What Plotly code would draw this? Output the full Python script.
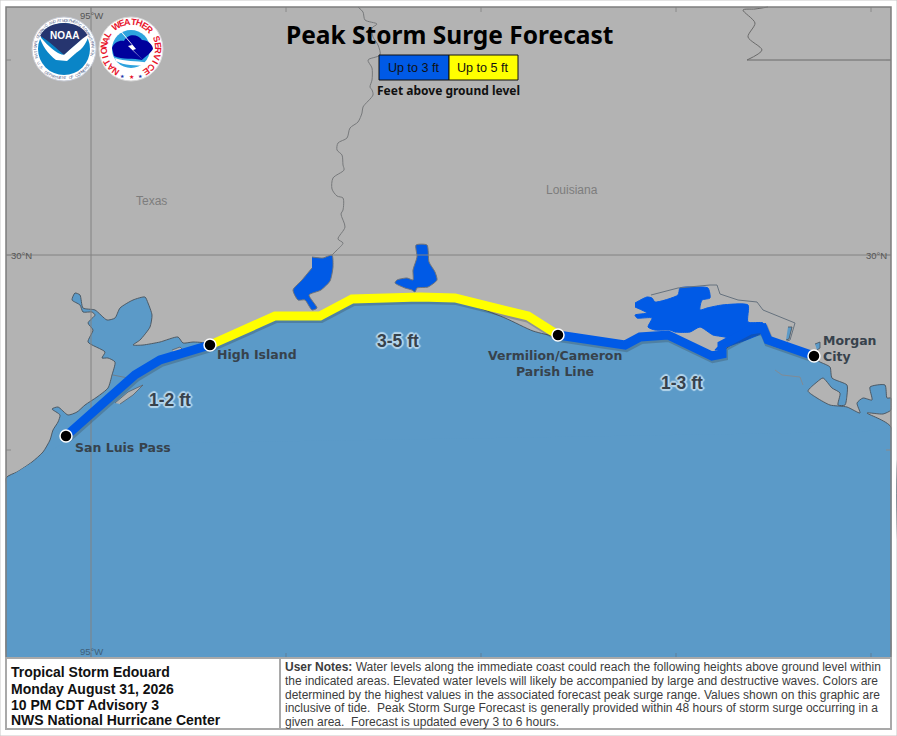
import math
import plotly.graph_objects as go

gulf_x = [6, 6, 17, 32, 43, 50, 53, 58, 60, 52, 58, 68, 77, 85, 97, 108, 112, 115, 108, 102, 105, 88, 93, 88, 95, 92, 83, 80, 72, 75, 80, 83, 95, 107, 115, 120, 133, 145, 148, 152, 150, 140, 133, 143, 160, 178, 183, 193, 205, 210, 275, 320, 352, 420, 455, 505, 533, 558, 625, 640, 668, 713, 722, 748, 763, 768, 813, 820, 830, 832, 847, 847, 845, 838, 840, 832, 823, 817, 808, 817, 830, 847, 860, 857, 863, 872, 870, 885, 887, 891, 891, 883, 867, 891, 891]
gulf_y = [658, 478, 472, 462, 452, 440, 430, 422, 415, 409, 407, 415, 412, 405, 397, 388, 375, 362, 358, 358, 352, 342, 330, 323, 315, 312, 312, 305, 300, 293, 295, 308, 310, 320, 318, 308, 300, 297, 303, 315, 327, 340, 345, 345, 342, 337, 343, 342, 343, 346, 319, 319, 302, 299, 300, 318, 331, 337, 347, 339, 338, 358, 352, 332, 332, 343, 358, 362, 367, 378, 385, 395, 405, 405, 393, 388, 378, 382, 391, 398, 405, 407, 413, 403, 398, 400, 387, 385, 398, 398, 410, 414, 413, 427, 658]
deep_x = [6, 6, 60, 860, 891, 891]
deep_y = [658, 479, 445, 432, 428, 658]

galveston_x = [115, 128, 143, 133, 120]
galveston_y = [403, 392, 385, 395, 404]
spot_x = [172, 180, 183, 174]
spot_y = [350, 347, 350, 352]
inlet_x = [815, 820, 820, 817]
inlet_y = [344, 342, 348, 350]
marsh_x = [788, 792, 789, 786]
marsh_y = [327, 327, 339, 340]

sabine_x = [312, 323, 332, 333, 330, 321, 309, 317, 312, 305, 298, 293, 302, 312]
sabine_y = [257, 258, 255, 267, 281, 290, 295, 308, 310, 300, 300, 290, 280, 268]
calcasieu_x = [416, 427, 429, 435, 437, 428, 417, 415, 412, 405, 395, 397, 407, 413, 413, 417, 416]
calcasieu_y = [245, 245, 262, 272, 280, 287, 288, 292, 290, 288, 283, 280, 278, 280, 270, 257, 245]
grand_x = [635, 647, 652, 655, 678, 680, 695, 708, 710, 702, 700, 707, 722, 748, 748, 763, 763, 732, 715, 727, 713, 700, 690, 675, 670, 655, 648, 652, 637, 635, 647, 635]
grand_y = [303, 297, 298, 302, 295, 288, 287, 288, 298, 300, 310, 308, 305, 305, 322, 323, 332, 345, 350, 338, 335, 327, 332, 332, 330, 330, 327, 318, 318, 315, 313, 307]

river_x = [358, 363, 365, 377, 372, 373, 378, 380, 368, 372, 372, 370, 372, 373, 363, 362, 358, 350, 347, 338, 337, 342, 343, 344, 333, 332, 337, 343, 343, 341, 345, 338, 343, 337, 332]
river_y = [7, 12, 20, 24, 28, 37, 45, 55, 60, 68, 80, 87, 90, 95, 107, 113, 122, 128, 138, 143, 150, 155, 165, 170, 178, 189, 196, 198, 210, 214, 227, 239, 243, 250, 255]
border_x = [768, 755, 743, 755, 748, 762, 747]
border_y = [7, 9, 10, 23, 37, 50, 60]
border_east_x = [747, 891]
border_east_y = [60, 60]
canal_x = [651, 678, 710, 717, 720, 738, 757, 763, 795, 790, 787]
canal_y = [295, 288, 285, 285, 294, 300, 302, 310, 323, 340, 341]
dike_x = [113, 128]
dike_y = [375, 378]
shoal_x = [775, 782, 800, 803]
shoal_y = [370, 375, 377, 385]

surge_low_west_x = [66, 135, 160, 210]
surge_low_west_y = [436, 375, 360, 345]
surge_high_x = [210, 275, 320, 352, 420, 455, 528, 558]
surge_high_y = [345, 316, 316, 299, 297, 298, 316, 335]
surge_low_east_x = [558, 625, 640, 668, 712, 722, 722, 750, 763, 768, 814]
surge_low_east_y = [335, 345, 337, 335, 356, 354, 345, 330, 328, 340, 356]

place_x = [66, 210, 558, 814]
place_y = [436, 345, 335, 356]

lon_ticks = [91, 286, 481, 676, 871]
lat_ticks = [60, 255, 450]

LAND = "#b3b3b3"
WATER = "#5b9ac8"
BLUE = "#005ae6"
YELLOW = "#ffff00"
BOLD = "DejaVu Sans"
HEAD = "Noto Sans"
ARIAL = "Liberation Sans"

fig = go.Figure()


def area(xs, ys, fill, line=None, width=1, curve="linear"):
    fig.add_trace(go.Scatter(x=xs, y=ys, mode="lines", fill="toself", fillcolor=fill,
                             line=dict(color=line or fill, width=width, shape=curve, smoothing=0.6),
                             hoverinfo="skip"))


def stroke(xs, ys, color, width, curve="linear"):
    fig.add_trace(go.Scatter(x=xs, y=ys, mode="lines", hoverinfo="skip",
                             line=dict(color=color, width=width, shape=curve, smoothing=0.8)))


area(gulf_x, gulf_y, WATER, "#46515b", 0.9, "spline")
area(deep_x, deep_y, WATER, WATER, 0)
area(galveston_x, galveston_y, LAND, "#55606a", 0.8)
area(spot_x, spot_y, LAND, "#55606a", 0.8)
area(inlet_x, inlet_y, WATER, "#46515b", 0.8)
area(marsh_x, marsh_y, WATER, "#46515b", 0.8)
area(sabine_x, sabine_y, BLUE, "#6f7378", 1, "spline")
area(calcasieu_x, calcasieu_y, BLUE, "#6f7378", 1, "spline")
area(grand_x, grand_y, BLUE, None, 1, "spline")
stroke(river_x, river_y, "#77797b", 1, "spline")
stroke(border_x, border_y, "#6a6a6a", 1, "spline")
stroke(border_east_x, border_east_y, "#6a6a6a", 1)
stroke(canal_x, canal_y, "#66727e", 1)
stroke(dike_x, dike_y, "#6f7f8c", 1)
stroke(shoal_x, shoal_y, "#7f8b96", 1)

# graticule
stroke([91, 91], [7, 658], "#828282", 1)
stroke([6, 891], [255, 255], "#828282", 1)
for t in lon_ticks:
    stroke([t, t], [7, 12], "#8a8a8a", 1)
    stroke([t, t], [653, 658], "#5f7f99", 1)
for t in lat_ticks:
    stroke([6, 11], [t, t], "#8a8a8a", 1)
    stroke([886, 891], [t, t], "#8a8a8a", 1)

# shadow then surge line
for xs, ys in [(surge_low_west_x, surge_low_west_y), (surge_high_x, surge_high_y), (surge_low_east_x, surge_low_east_y)]:
    stroke([x + 1 for x in xs], [y + 2 for y in ys], "rgba(50,60,70,0.28)", 10)
stroke(surge_low_west_x, surge_low_west_y, BLUE, 9)
stroke(surge_low_east_x, surge_low_east_y, BLUE, 9)
stroke(surge_high_x, surge_high_y, YELLOW, 9)
fig.add_trace(go.Scatter(x=place_x, y=place_y, mode="markers", hoverinfo="skip",
                         marker=dict(size=12, color="black", line=dict(color="white", width=1.5))))

shapes = []
annotations = []


def label(x, y, text, size, color="black", family=BOLD, bold=False, anchor="center", angle=0, shadow=None):
    font = dict(family=family, size=size, color=color, weight="bold" if bold else "normal")
    if shadow:
        font["shadow"] = shadow
    annotations.append(dict(x=x, y=y, xref="x", yref="y", text=text, showarrow=False, font=font,
                            xanchor=anchor, yanchor="middle", textangle=angle, borderpad=0, borderwidth=0))


def box(x0, y0, x1, y1, fill, line="rgba(0,0,0,0)", width=0):
    shapes.append(dict(type="rect", x0=x0, y0=y0, x1=x1, y1=y1, fillcolor=fill,
                       line=dict(color=line, width=width), layer="above"))


def disc(cx, cy, r, fill, line="rgba(0,0,0,0)", width=0):
    shapes.append(dict(type="circle", x0=cx - r, y0=cy - r, x1=cx + r, y1=cy + r, fillcolor=fill,
                       line=dict(color=line, width=width), layer="above"))


def path(d, fill, line="rgba(0,0,0,0)", width=0):
    shapes.append(dict(type="path", path=d, fillcolor=fill, line=dict(color=line, width=width), layer="above"))


def ring(cx, cy, r, text, start, step, size, color, bold, flip=False):
    for i, ch in enumerate(text):
        if ch != " ":
            deg = start + i * step
            a = math.radians(deg)
            turn = deg - 180 if flip else deg
            label(cx + r * math.sin(a), cy - r * math.cos(a), ch, size, color, ARIAL, bold, angle=turn)


# map frame and bottom panels
shapes.append(dict(type="rect", x0=0, y0=0, x1=897, y1=736, fillcolor="white",
                   line=dict(color="#c8c8c8", width=1), layer="below"))
shapes.append(dict(type="rect", x0=6, y0=7, x1=891, y1=658, fillcolor=LAND,
                   line=dict(color=LAND, width=0), layer="below"))
box(1, 7, 5.5, 658, "white")
box(891.5, 7, 896, 658, "white")
box(6, 7, 891, 658, "rgba(0,0,0,0)", "#7d7d7d", 1.5)
box(6, 658, 280, 729, "white", "#a9a9a9", 2)
box(280, 658, 891, 729, "white", "#a9a9a9", 2)

# legend
box(379, 55, 449, 80, BLUE, "#111111", 1)
box(449, 55, 518, 80, YELLOW, "#111111", 1)
label(414, 68, "Up to 3 ft", 12.6, "#111111", ARIAL)
label(483, 68, "Up to 5 ft", 12.6, "#111111", ARIAL)
label(448, 90, "Feet above ground level", 12, "#111111", HEAD, True)
label(449, 34, "Peak Storm Surge Forecast", 24.5, "black", HEAD, True)

# map text
label(91, 15, "95°W", 9.5, "#555555", ARIAL)
label(91, 651, "95°W", 9.5, "#3f5f78", ARIAL)
label(21, 255, "30°N", 9.5, "#555555", ARIAL)
label(876, 255, "30°N", 9.5, "#555555", ARIAL)
label(151, 201, "Texas", 12, "#7d7d7d", ARIAL)
label(572, 190, "Louisiana", 12, "#7d7d7d", ARIAL)
label(75, 447, "San Luis Pass", 12.5, "#37424c", BOLD, True, "left")
label(217, 354, "High Island", 12.5, "#37424c", BOLD, True, "left")
label(555, 355, "Vermilion/Cameron", 12.5, "#37424c", BOLD, True)
label(555, 371, "Parish Line", 12.5, "#37424c", BOLD, True)
label(823, 340, "Morgan", 12.5, "#37424c", BOLD, True, "left")
label(823, 356, "City", 12.5, "#37424c", BOLD, True, "left")
tint = "#b5d6ec"
halo = ", ".join(f"{a}px {b}px 1px {tint}" for a, b in [(2, 0), (-2, 0), (0, 2), (0, -2), (1, 1), (-1, -1), (1, -1), (-1, 1)])
label(398, 341, "3-5 ft", 17.5, "#37424c", ARIAL, True, shadow=halo)
label(170, 400, "1-2 ft", 17.5, "#37424c", ARIAL, True, shadow=halo)
label(682, 383, "1-3 ft", 17.5, "#37424c", ARIAL, True, shadow=halo)

# bottom left panel
for y, t in zip([672, 689, 705, 720], ["Tropical Storm Edouard", "Monday August 31, 2026", "10 PM CDT Advisory 3", "NWS National Hurricane Center"]):
    label(11, y, t, 14, "#111111", ARIAL, True, "left")

# user notes
notes = ["<b>User Notes:</b> Water levels along the immediate coast could reach the following heights above ground level within",
         "the indicated areas. Elevated water levels will likely be accompanied by large and destructive waves. Colors are",
         "determined by the highest values in the associated forecast peak surge range. Values shown on this graphic are",
         "inclusive of tide.\u00a0 Peak Storm Surge Forecast is generally provided within 48 hours of storm surge occurring in a",
         "given area.\u00a0 Forecast is updated every 3 to 6 hours."]
for y, t in zip([667, 681, 695, 708, 722], notes):
    label(285, y, t, 12, "#3c3c3c", ARIAL, False, "left")

# NOAA logo
disc(64, 49, 32, "white", "#c7cbd6", 1)
disc(64, 49, 26, "#0a85c7")
path("M 40 36 C 45 26 55 23 64 23 C 73 23 83 26 88 36 C 80 40 72 48 64 55 C 56 48 48 40 40 36 Z", "#26356f")
path("M 38 33 C 42 40 50 48 58 53 C 63 56 70 55 76 53 L 67 61 L 56 60 C 48 54 42 46 38 33 Z", "white")
path("M 64 55 C 72 48 80 40 89 34 C 87 44 80 52 72 55 Z", "white")
label(64, 35, "NOAA", 10, "white", ARIAL, True)
ring(64, 49, 29, "NATIONAL OCEANIC AND ATMOSPHERIC ADMINISTRATION", -105, 4.5, 4, "#5b6a90", False)
ring(64, 49, 29, "U.S. DEPARTMENT OF COMMERCE", 240, -4.5, 4, "#5b6a90", False, flip=True)

# NWS logo
disc(131, 49, 32, "white", "#d8d8d8", 1)
disc(131, 49, 19, "#2ea3de")
path("M 112 48 C 114 42 120 40 124 41 C 128 33 138 34 142 40 C 148 40 153 45 153 49 C 150 54 146 56 142 60 C 134 58 122 60 114 56 Z", "#00009c")
path("M 120 31 L 132 45 L 128 46 L 144 61 L 133 50 L 136 49 L 122 32 Z", "white")
path("M 115 58 C 125 62 135 60 148 63 L 146 66 C 136 65 124 66 116 61 Z", "white")
ring(131, 49, 27, "NATIONAL WEATHER SERVICE", -145, 12.6, 9, "#e8142c", True)
label(122, 76, "★", 5, "#2233aa", ARIAL)
label(131, 77, "★", 6, "#e8142c", ARIAL)
label(140, 76, "★", 5, "#2233aa", ARIAL)

fig.update_layout(width=897, height=736, margin=dict(l=0, r=0, t=0, b=0), showlegend=False,
                  paper_bgcolor="white", plot_bgcolor="white", shapes=shapes, annotations=annotations,
                  xaxis=dict(range=[0, 897], visible=False, fixedrange=True),
                  yaxis=dict(range=[736, 0], visible=False, fixedrange=True))
fig.write_html("out.html", config=dict(displayModeBar=False),
               post_script="document.body.style.margin='0';document.body.style.overflow='hidden';")
